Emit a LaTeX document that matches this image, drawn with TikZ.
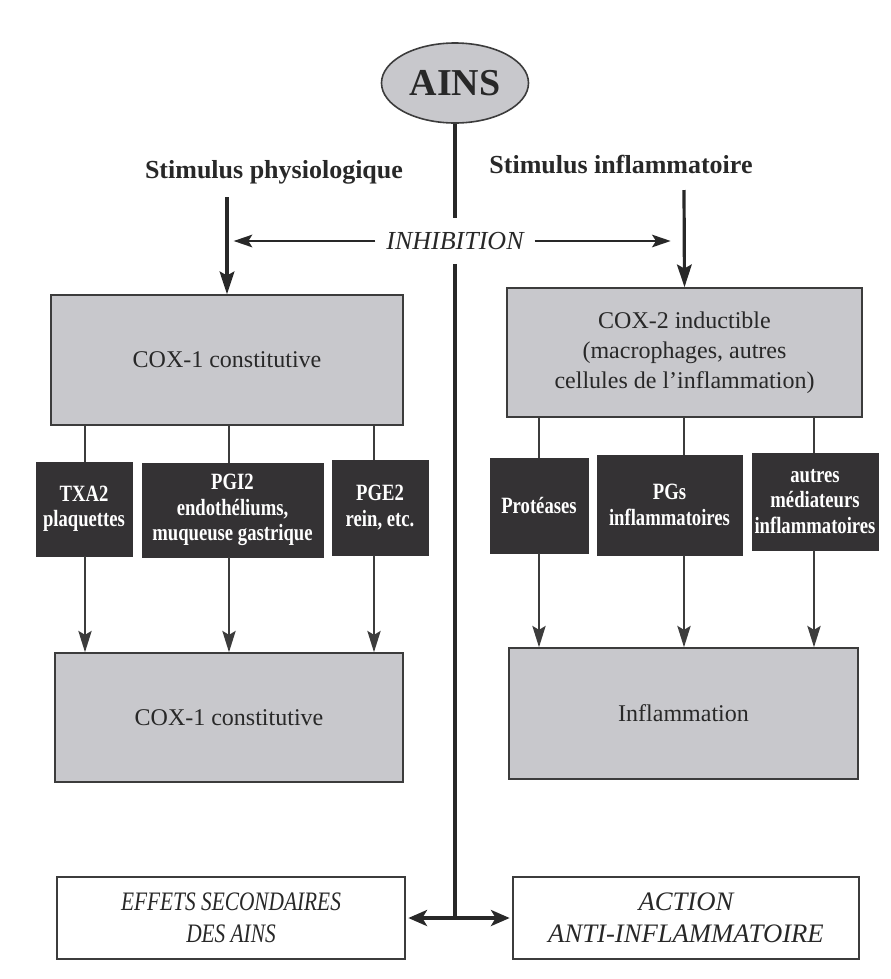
\documentclass[tikz,border=0pt]{standalone}
\usepackage{fontspec}
\usepackage{graphicx}
\setmainfont{Liberation Serif}
\newfontfamily\darkfont[FakeStretch=0.8]{Liberation Serif Bold}
\usetikzlibrary{arrows.meta,shapes.geometric,calc}
\definecolor{boxgray}{RGB}{200,200,204}
\definecolor{darkfill}{RGB}{52,50,52}
\definecolor{edge}{RGB}{60,60,60}
\definecolor{ink}{RGB}{40,40,40}
\tikzset{
  graybox/.style={draw=edge, line width=1.2pt, fill=boxgray, text=ink, align=center, inner sep=0pt,
    font=\fontsize{18}{22.5}\selectfont},
  darkbox/.style={draw=darkfill, fill=darkfill, text=white, align=center, inner sep=0pt,
    font=\darkfont\fontsize{17.5}{19}\selectfont},
  whitebox/.style={draw=edge, line width=1pt, fill=white, text=ink, align=center, inner sep=0pt,
    font=\itshape\fontsize{20}{24}\selectfont},
  thinline/.style={draw=edge, line width=1.1pt},
  thinarrow/.style={thinline, -{Stealth[length=16pt,width=10pt,inset=3pt]}},
  stimarrow/.style={draw=ink, line width=2.4pt, -{Stealth[length=17pt,width=11pt,inset=3pt]}},
  inharrow/.style={draw=ink, line width=1.4pt, -{Stealth[length=14pt,width=9.5pt,inset=3pt]}},
  central/.style={draw=ink, line width=3pt},
  stimlabel/.style={text=ink, font=\bfseries\fontsize{19.5}{22}\selectfont},
}
\begin{document}
\begin{tikzpicture}[x=0.75pt,y=-0.75pt]
\useasboundingbox (0,0) rectangle (890,979);

% column coordinates
\coordinate (L1) at (85,0);
\coordinate (L2) at (229,0);
\coordinate (L3) at (374,0);
\coordinate (R1) at (539,0);
\coordinate (R2) at (684,0);
\coordinate (R3) at (814,0);

% top
\node[ellipse, draw=edge, line width=1.2pt, fill=boxgray, minimum width=110.25pt, minimum height=60pt,
      inner sep=0pt, text=ink, font=\bfseries\fontsize{28.5}{30}\selectfont] (ains) at (455,83) {AINS};
\node[stimlabel] (phys) at (274,172) {Stimulus physiologique};
\node[stimlabel] (inflst) at (621,165) {Stimulus inflammatoire};
\node[text=ink, font=\itshape\fontsize{19.5}{22}\selectfont, minimum height=33.75pt, inner xsep=8pt, inner ysep=0pt] (inh) at (455,241) {INHIBITION};
\coordinate (s1) at (227,197);
\coordinate (s2) at (684,190);

% gray boxes
\node[graybox, minimum width=264pt, minimum height=97.5pt] (cox1a) at (227,360) {COX-1 constitutive};
\node[graybox, minimum width=266.25pt, minimum height=96.75pt] (cox2) at (684.5,352.5)
  {COX-2 inductible\\(macrophages, autres\\cellules de l'inflammation)};
\node[graybox, minimum width=261pt, minimum height=96.75pt] (cox1b) at (229,717.5) {COX-1 constitutive};
\node[graybox, minimum width=261.75pt, minimum height=98.25pt] (infl) at (683.5,713.5) {Inflammation};

% dark boxes
\node[darkbox, minimum width=72pt, minimum height=70.5pt] (txa) at (84,509) {TXA2\\plaquettes};
\node[darkbox, minimum width=135.75pt, minimum height=70.5pt] (pgi) at (232.5,510) {PGI2\\endothéliums,\\muqueuse gastrique};
\node[darkbox, minimum width=72pt, minimum height=71.25pt] (pge) at (380,507.5) {PGE2\\rein, etc.};
\node[darkbox, minimum width=73.5pt, minimum height=71.25pt] (prot) at (539,505.5) {Protéases};
\node[darkbox, minimum width=108.75pt, minimum height=75pt] (pgs) at (669.5,505) {PGs\\inflammatoires};
\node[darkbox, minimum width=94.5pt, minimum height=72.75pt] (autres) at (815,501.5) {autres\\médiateurs\\inflammatoires};

% bottom boxes
\node[whitebox, minimum width=261pt, minimum height=61.5pt] (effets) at (231,918)
  {\scalebox{0.8}[1]{EFFETS SECONDAIRES}\\\scalebox{0.8}[1]{DES AINS}};
\node[whitebox, minimum width=259.5pt, minimum height=61.5pt] (action) at (686,918)
  {ACTION\\ANTI-INFLAMMATOIRE};
\coordinate (cbot) at (455,918);

% central line
\draw[central] (ains.south) -- (inh.north);
\draw[central] (inh.south) -- (cbot);
\draw[draw=ink, line width=2.6pt, {Stealth[length=14pt,width=12pt,inset=3.5pt]}-{Stealth[length=14pt,width=12pt,inset=3.5pt]},
      shorten <=2pt, shorten >=2pt] (effets.east) -- (action.west);

% stimulus arrows
\draw[stimarrow] (s1) -- (s1 |- cox1a.north);
\draw[stimarrow] (s2) -- (cox2.north);

% inhibition arrows
\draw[inharrow, shorten >=5pt] (inh.west) -- (inh.west -| s1);
\draw[inharrow, shorten >=10pt] (inh.east) -- (inh.east -| s2);

% left connectors
\draw[thinline] (cox1a.south -| L1) -- (txa.north -| L1);
\draw[thinline] (cox1a.south -| L2) -- (pgi.north -| L2);
\draw[thinline] (cox1a.south -| L3) -- (pge.north -| L3);
\draw[thinarrow] (txa.south -| L1) -- (cox1b.north -| L1);
\draw[thinarrow] (pgi.south -| L2) -- (cox1b.north -| L2);
\draw[thinarrow] (pge.south -| L3) -- (cox1b.north -| L3);

% right connectors
\draw[thinline] (cox2.south -| R1) -- (prot.north -| R1);
\draw[thinline] (cox2.south -| R2) -- (pgs.north -| R2);
\draw[thinline] (cox2.south -| R3) -- (autres.north -| R3);
\draw[thinarrow] (prot.south -| R1) -- (infl.north -| R1);
\draw[thinarrow] (pgs.south -| R2) -- (infl.north -| R2);
\draw[thinarrow] (autres.south -| R3) -- (infl.north -| R3);
\end{tikzpicture}
\end{document}
